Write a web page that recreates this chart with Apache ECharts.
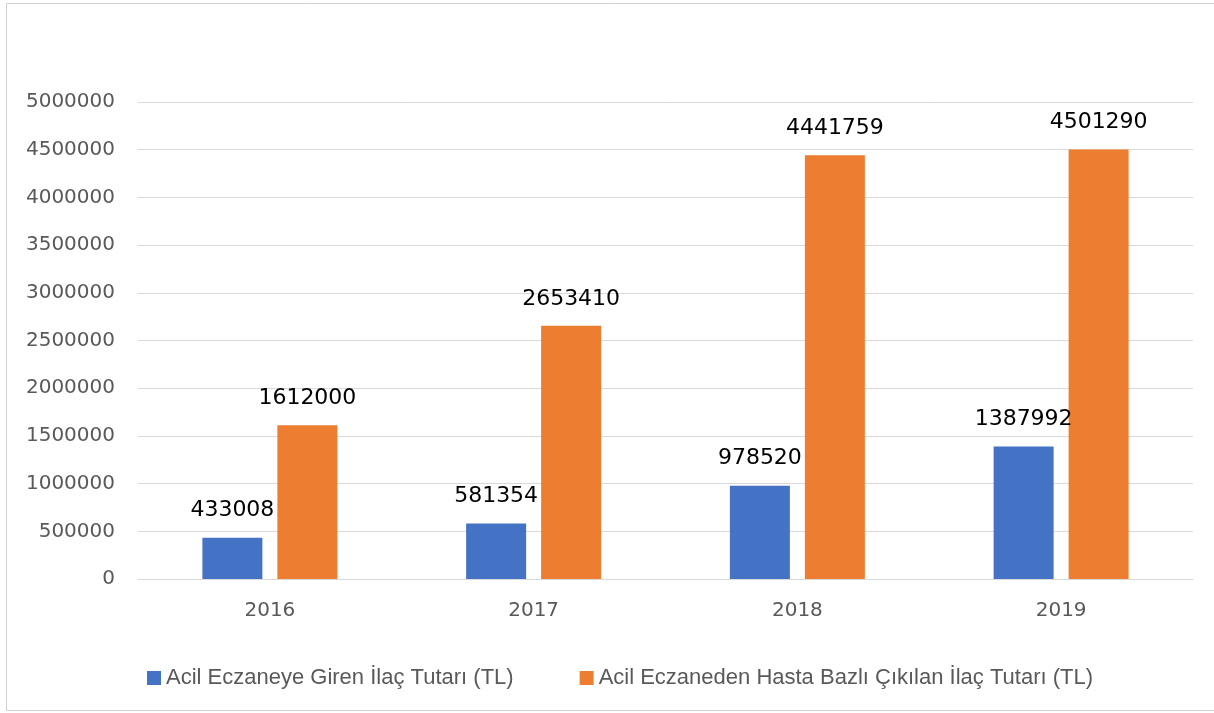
<!DOCTYPE html>
<html>
<head>
<meta charset="utf-8">
<script src="https://cdn.jsdelivr.net/npm/echarts@6/dist/echarts.min.js"></script>
<style>html,body{margin:0;padding:0;background:#fff}#c{width:1214px;height:713px}</style>
</head>
<body>
<div id="c"></div>
<script>
const categories = ['2016', '2017', '2018', '2019'];
const seriesNames = ['Acil Eczaneye Giren İlaç Tutarı (TL)', 'Acil Eczaneden Hasta Bazlı Çıkılan İlaç Tutarı (TL)'];
const girenValues = [433008, 581354, 978520, 1387992];
const cikilanValues = [1612000, 2653410, 4441759, 4501290];

const chart = echarts.init(document.getElementById('c'), null, {renderer: 'canvas'});
const labelStyle = {show: true, position: 'top', distance: 16, color: '#000', fontSize: 22, fontFamily: 'DejaVu Sans'};
chart.setOption({
  animation: false,
  textStyle: {fontFamily: 'DejaVu Sans'},
  graphic: [{type: 'rect', shape: {x: 6.5, y: 3.5, width: 1215, height: 707}, style: {fill: 'none', stroke: '#d0d0d0', lineWidth: 1}, silent: true}],
  grid: {left: 138, right: 21, top: 102, bottom: 134, containLabel: false},
  legend: {
    left: 142, top: 662, itemWidth: 14, itemHeight: 14, itemGap: 66, icon: 'rect',
    textStyle: {color: '#595959', fontSize: 22, fontFamily: 'Liberation Sans'},
    data: seriesNames
  },
  xAxis: {
    type: 'category', data: categories,
    axisTick: {show: false},
    axisLine: {lineStyle: {color: '#d9d9d9', width: 1}},
    axisLabel: {color: '#595959', fontSize: 20, margin: 22}
  },
  yAxis: {
    type: 'value', min: 0, max: 5000000, interval: 500000,
    axisLine: {show: false}, axisTick: {show: false},
    splitLine: {lineStyle: {color: '#d9d9d9', width: 1}},
    axisLabel: {color: '#595959', fontSize: 20, margin: 23, formatter: v => String(v)}
  },
  series: [
    {name: seriesNames[0], type: 'bar', data: girenValues, barWidth: 60, barGap: '25%', itemStyle: {color: '#4472C4'}, label: labelStyle},
    {name: seriesNames[1], type: 'bar', data: cikilanValues, barWidth: 60, barGap: '25%', itemStyle: {color: '#ED7D31'}, label: labelStyle}
  ]
});
</script>
</body>
</html>
